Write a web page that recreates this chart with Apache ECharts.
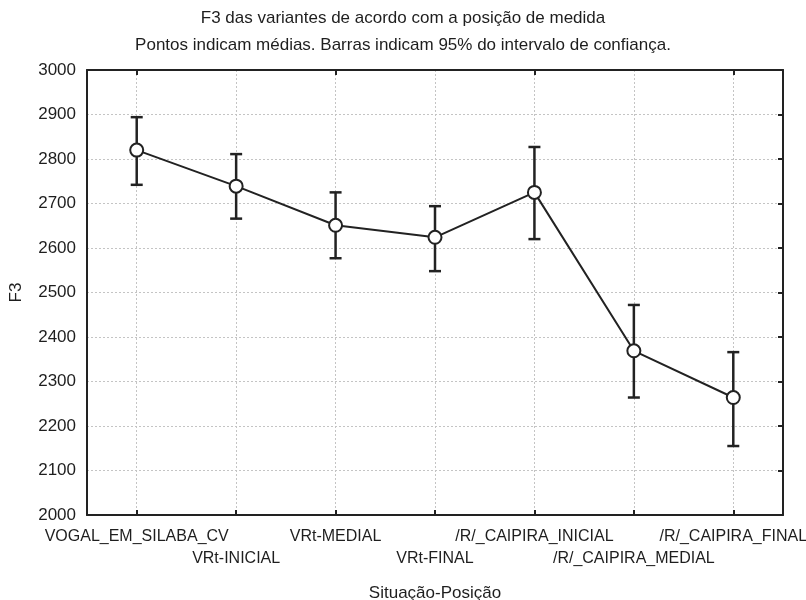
<!DOCTYPE html>
<html>
<head>
<meta charset="utf-8">
<script src="https://cdn.jsdelivr.net/npm/echarts@6/dist/echarts.min.js"></script>
<style>
  html, body { margin: 0; padding: 0; background: #fff; }
  #chart { width: 806px; height: 600px; }
</style>
</head>
<body>
<div id="chart"></div>
<script>
// Situação-Posição categories
const categories = [
  'VOGAL_EM_SILABA_CV',
  'VRt-INICIAL',
  'VRt-MEDIAL',
  'VRt-FINAL',
  '/R/_CAIPIRA_INICIAL',
  '/R/_CAIPIRA_MEDIAL',
  '/R/_CAIPIRA_FINAL'
];
// F3 means
const means = [2820, 2739, 2651, 2624, 2725, 2369, 2264];
// 95% confidence interval bounds
const ciLower = [2742, 2666, 2577, 2548, 2620, 2264, 2155];
const ciUpper = [2894, 2811, 2725, 2694, 2827, 2472, 2366];
// value axis ticks
const yMin = 2000, yMax = 3000, yStep = 100;

const ink = '#222';
const textColor = '#1e1e1e';
const font = '"Liberation Sans", Arial, sans-serif';

const errorData = categories.map((c, i) => [i, ciLower[i], ciUpper[i]]);

const chart = echarts.init(document.getElementById('chart'), null, { renderer: 'canvas' });

chart.setOption({
  backgroundColor: '#fff',
  animation: false,
  title: [
    {
      text: 'F3 das variantes de acordo com a posição de medida',
      left: 'center', top: 5,
      textStyle: { fontFamily: font, fontSize: 17, fontWeight: 'normal', color: textColor }
    },
    {
      text: 'Pontos indicam médias. Barras indicam 95% do intervalo de confiança.',
      left: 'center', top: 32,
      textStyle: { fontFamily: font, fontSize: 17, fontWeight: 'normal', color: textColor }
    }
  ],
  grid: { left: 87, right: 23, top: 70, bottom: 85, show: false, containLabel: false, outerBoundsMode: 'none' },
  xAxis: [
    {
      type: 'category',
      data: categories,
      position: 'bottom',
      boundaryGap: true,
      name: 'Situação-Posição',
      nameLocation: 'middle',
      nameGap: 70,
      nameTextStyle: { fontFamily: font, fontSize: 17, color: textColor },
      axisLine: { show: true, lineStyle: { color: ink, width: 2 } },
      axisTick: { show: true, inside: true, alignWithLabel: true, length: 5, lineStyle: { color: ink, width: 2 } },
      splitLine: { show: true, alignWithLabel: true, lineStyle: { color: '#c4c4c4', type: [2, 2], width: 1 } },
      axisLabel: {
        interval: 0,
        margin: 11,
        fontFamily: font,
        fontSize: 16,
        color: textColor,
        lineHeight: 22,
        hideOverlap: false,
        formatter: (v, i) => (i % 2 ? '\n' + v : v)
      }
    },
    {
      type: 'category',
      data: categories,
      position: 'top',
      boundaryGap: true,
      axisLine: { show: true, lineStyle: { color: ink, width: 2 } },
      axisTick: { show: true, inside: true, alignWithLabel: true, length: 5, lineStyle: { color: ink, width: 2 } },
      axisLabel: { show: false },
      splitLine: { show: false }
    }
  ],
  yAxis: [
    {
      type: 'value',
      min: yMin, max: yMax, interval: yStep,
      position: 'left',
      name: 'F3',
      nameLocation: 'middle',
      nameGap: 62,
      nameRotate: 90,
      nameTextStyle: { fontFamily: font, fontSize: 17, color: textColor },
      axisLine: { show: true, lineStyle: { color: ink, width: 2 } },
      axisTick: { show: false },
      splitLine: { show: true, lineStyle: { color: '#c4c4c4', type: [2, 2], width: 1 } },
      axisLabel: { fontFamily: font, fontSize: 17, color: textColor, margin: 11, formatter: (v) => String(v) }
    },
    {
      type: 'value',
      min: yMin, max: yMax, interval: yStep,
      position: 'right',
      axisLine: { show: true, lineStyle: { color: ink, width: 2 } },
      axisTick: { show: true, inside: true, length: 5, lineStyle: { color: ink, width: 2 } },
      axisLabel: { show: false },
      splitLine: { show: false }
    }
  ],
  series: [
    {
      // confidence-interval whiskers
      type: 'custom',
      xAxisIndex: 0,
      yAxisIndex: 0,
      z: 2,
      data: errorData,
      encode: { x: 0, y: [1, 2] },
      renderItem: (params, api) => {
        const x = api.value(0);
        const lo = api.coord([x, api.value(1)]);
        const hi = api.coord([x, api.value(2)]);
        const half = 6;
        const style = { stroke: ink, lineWidth: 2.5 };
        return {
          type: 'group',
          children: [
            { type: 'line', shape: { x1: lo[0], y1: lo[1], x2: hi[0], y2: hi[1] }, style },
            { type: 'line', shape: { x1: hi[0] - half, y1: hi[1], x2: hi[0] + half, y2: hi[1] }, style },
            { type: 'line', shape: { x1: lo[0] - half, y1: lo[1], x2: lo[0] + half, y2: lo[1] }, style }
          ]
        };
      }
    },
    {
      // means
      type: 'line',
      xAxisIndex: 0,
      yAxisIndex: 0,
      z: 3,
      data: means,
      symbol: 'circle',
      symbolSize: 13,
      lineStyle: { color: ink, width: 2 },
      itemStyle: { color: '#fff', borderColor: ink, borderWidth: 2 }
    }
  ]
});
</script>
</body>
</html>
